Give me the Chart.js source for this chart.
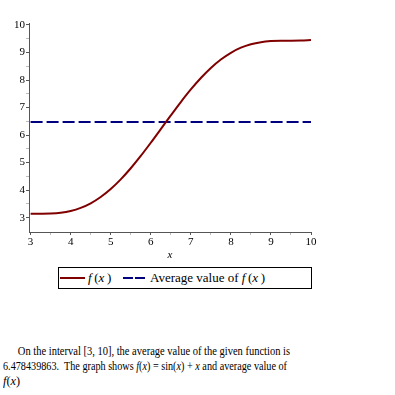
<!DOCTYPE html>
<html>
<head>
<meta charset="utf-8">
<script src="https://cdn.jsdelivr.net/npm/chart.js@4.4.1/dist/chart.umd.min.js"></script>
<style>
  body { margin: 0; background: #fff; }
  #wrap { position: absolute; left: 0; top: 0; width: 395px; height: 262px; }
  #legend {
    position: absolute; left: 58px; top: 267px; width: 252px; height: 20px;
    border: 1px solid #000; font-family: "Liberation Serif", serif; font-size: 13px;
    line-height: 20px; white-space: nowrap;
  }
  #legend > span { position: absolute; top: 0; }
  #legend .ln { top: 9px; height: 2px; }
  .it { font-style: italic; }
  #note {
    position: absolute; left: 3px; top: 344px; font-family: "Liberation Serif", serif;
    font-size: 12px; line-height: 15px; color: #000; white-space: nowrap;
  }
  #note div { transform-origin: 0 0; }
</style>
</head>
<body>
<div id="wrap"><canvas id="plot"></canvas></div>
<div id="legend">
  <span class="ln" style="left:1px;width:25px;background:#800000;"></span>
  <span style="left:29px;"><span class="it">f</span>&thinsp;(<span class="it">x</span>&thinsp;)</span>
  <span class="ln" style="left:64px;width:10px;background:#000080;"></span>
  <span class="ln" style="left:76px;width:10px;background:#000080;"></span>
  <span style="left:91px;">Average value of <span class="it">f</span>&thinsp;(<span class="it">x</span>&thinsp;)</span>
</div>
<div id="note">
  <div data-w="270" style="padding-left:17px;">On the interval [3, 10], the average value of the given function is</div>
  <div data-w="284">6.478439863.&nbsp; The graph shows <span class="it">f</span>(<span class="it">x</span>) = sin(<span class="it">x</span>) + <span class="it">x</span> and average value of</div>
  <div data-w="17"><span class="it">f</span>(<span class="it">x</span>)</div>
</div>
<script>
// f(x) = sin(x) + x
const xValues = [3, 3.25, 3.5, 3.75, 4, 4.25, 4.5, 4.75, 5, 5.25, 5.5, 5.75, 6, 6.25, 6.5,
  6.75, 7, 7.25, 7.5, 7.75, 8, 8.25, 8.5, 8.75, 9, 9.25, 9.5, 9.75, 10];
const fValues = [3.141, 3.142, 3.149, 3.178, 3.243, 3.355, 3.522, 3.751, 4.041, 4.391, 4.795,
  5.242, 5.721, 6.217, 6.715, 7.200, 7.657, 8.073, 8.438, 8.745, 8.989, 9.173, 9.299, 9.375,
  9.412, 9.424, 9.425, 9.431, 9.456];
const avgValue = 6.478439863;
const avgRange = [3, 10];
const xTicks = [3, 4, 5, 6, 7, 8, 9, 10];
const yTicks = [3, 4, 5, 6, 7, 8, 9, 10];

const curve = xValues.map((x, i) => ({ x: x, y: fValues[i] }));
const avgLine = avgRange.map(x => ({ x: x, y: avgValue }));

function withMinor(major) {
  const out = [];
  major.forEach((v, i) => {
    out.push({ value: v });
    if (i < major.length - 1) out.push({ value: v + 0.5 });
  });
  return out;
}

const tickFont = { family: "Liberation Serif", size: 11 };
const isMajor = v => Number.isInteger(v);

new Chart(document.getElementById("plot"), {
  type: "line",
  data: {
    datasets: [{
      data: curve,
      borderColor: "#800000",
      borderWidth: 2,
      pointRadius: 0,
      cubicInterpolationMode: "monotone",
      fill: false
    }, {
      data: avgLine,
      borderColor: "#000080",
      borderWidth: 2,
      borderDash: [12, 4],
      pointRadius: 0,
      fill: false
    }]
  },
  options: {
    responsive: true,
    maintainAspectRatio: false,
    animation: false,
    layout: { padding: { top: 23, right: 84, left: 0, bottom: 0 } },
    plugins: { legend: { display: false }, tooltip: { enabled: false } },
    scales: {
      x: {
        type: "linear",
        min: 2.96,
        max: 10,
        afterBuildTicks: s => { s.ticks = withMinor(xTicks); },
        afterFit: s => { s.height = 30; },
        border: { color: "#555", width: 1 },
        grid: {
          drawOnChartArea: false,
          tickLength: 3,
          tickColor: c => isMajor(c.tick.value) ? "#555" : "#bbb"
        },
        ticks: {
          autoSkip: false,
          maxRotation: 0,
          padding: 1,
          color: "#000",
          font: tickFont,
          callback: v => isMajor(v) ? String(v) : ""
        },
        title: {
          display: true,
          text: "x",
          color: "#000",
          padding: { top: 0, bottom: 0 },
          font: { family: "Liberation Serif", size: 11, style: "italic" }
        }
      },
      y: {
        type: "linear",
        min: 2.48,
        max: 10.07,
        afterBuildTicks: s => { s.ticks = withMinor(yTicks); },
        afterFit: s => { s.width = 29; },
        border: { color: "#555", width: 1 },
        grid: {
          drawOnChartArea: false,
          tickLength: 3,
          tickColor: c => isMajor(c.tick.value) ? "#555" : "#bbb"
        },
        ticks: {
          autoSkip: false,
          padding: 1,
          color: "#000",
          font: tickFont,
          callback: v => isMajor(v) ? String(v) : ""
        }
      }
    }
  }
});

// squeeze the note lines to the width they take in the picture
document.querySelectorAll("#note div").forEach(d => {
  const target = Number(d.dataset.w) + (d.style.paddingLeft ? 17 : 0);
  d.style.display = "inline-block";
  const real = d.getBoundingClientRect().width;
  d.style.transform = "scaleX(" + (target / real) + ")";
  d.style.display = "block";
});
</script>
</body>
</html>
